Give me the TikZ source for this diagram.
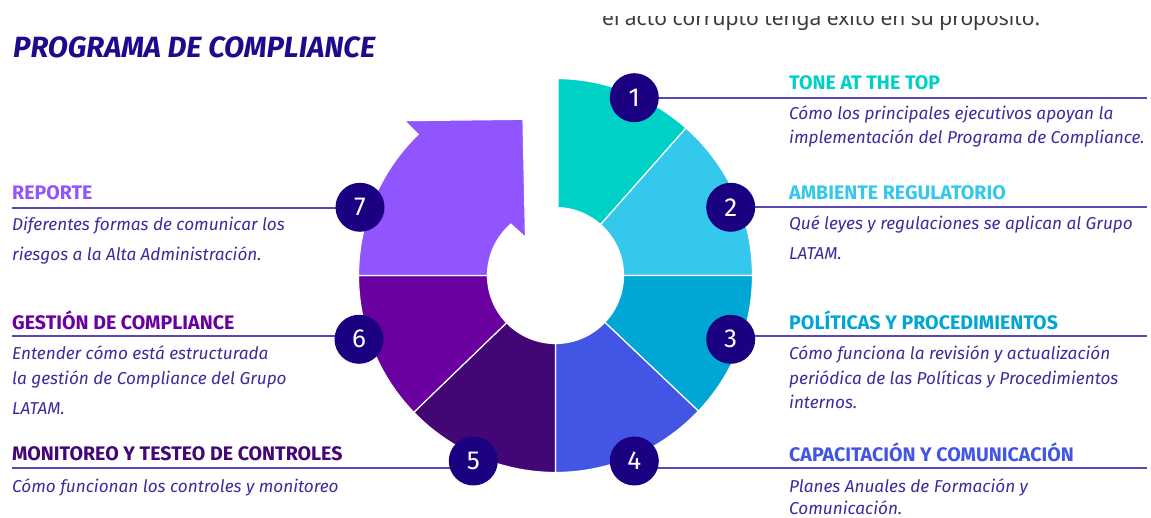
\documentclass[tikz,border=0pt]{standalone}
\usepackage{fontspec}
\setmainfont{Fira Sans}
\newfontfamily\topfont{Noto Sans}
\usetikzlibrary{calc}

\definecolor{segA}{HTML}{00D1C6}
\definecolor{segB}{HTML}{33C8EC}
\definecolor{segC}{HTML}{00A6D4}
\definecolor{segD}{HTML}{4355E5}
\definecolor{segE}{HTML}{430675}
\definecolor{segF}{HTML}{6A00A0}
\definecolor{segG}{HTML}{9155FF}
\definecolor{badge}{HTML}{1B0082}
\definecolor{rule}{HTML}{5E45B5}
\definecolor{bodytext}{HTML}{3B2C9E}
\definecolor{titlecol}{HTML}{1E0A8C}
\definecolor{greytext}{HTML}{3A3A3A}

\tikzset{
  segment/.style={draw=white, line width=1.2pt},
  badgenode/.style={circle, fill=badge, minimum size=49pt, inner sep=0pt,
    text=white, font=\fontsize{26}{26}\selectfont},
  leader/.style={draw=rule, line width=1.8pt},
  heading/.style={anchor=base west, inner sep=0pt, font=\fontsize{19.6}{19.6}\selectfont\bfseries},
  bodyline/.style={anchor=base west, inner sep=0pt, text=bodytext, font=\fontsize{17.2}{17.2}\selectfont\itshape},
}

\begin{document}
\begin{tikzpicture}[x=1pt,y=1pt]
\useasboundingbox (0,0) rectangle (1151,518);
\fill[white] (0,0) rectangle (1151,518);

% clipped line of running text at the top edge
\begin{scope}
  \clip (0,0) rectangle (1151,501.5);
  \node[anchor=base west, inner sep=0pt, text=greytext, font=\topfont\fontsize{21}{21}\selectfont]
    (runtext) at (602,492.5) {el acto corrupto tenga éxito en su propósito.};
\end{scope}

% title
\node[anchor=base west, inner sep=0pt, text=titlecol, font=\fontsize{29.3}{29.3}\selectfont\bfseries\itshape]
  (title) at (13,460.7) {PROGRAMA DE COMPLIANCE};

% ring of seven stages
\coordinate (C) at (555.5,242.5);
\begin{scope}[shift={(C)}]
  \path[segment, fill=segA] (89.27:197) arc[start angle=89.27, end angle=48.5, radius=197]
    -- (48.5:68) arc[start angle=48.5, end angle=87.9, radius=68] -- cycle;
  \path[segment, fill=segB] (48.5:197) arc[start angle=48.5, end angle=0, radius=197]
    -- (0:68) arc[start angle=0, end angle=48.5, radius=68] -- cycle;
  \path[segment, fill=segC] (0:197) arc[start angle=0, end angle=-43.5, radius=197]
    -- (-43.5:68) arc[start angle=-43.5, end angle=0, radius=68] -- cycle;
  \path[segment, fill=segD] (-43.5:197) arc[start angle=-43.5, end angle=-90, radius=197]
    -- (-90:68) arc[start angle=-90, end angle=-43.5, radius=68] -- cycle;
  \path[segment, fill=segE] (-90:197) arc[start angle=-90, end angle=-136, radius=197]
    -- (-136:68) arc[start angle=-136, end angle=-90, radius=68] -- cycle;
  \path[segment, fill=segF] (-136:197) arc[start angle=-136, end angle=-180, radius=197]
    -- (180:68) arc[start angle=180, end angle=224, radius=68] -- cycle;
  % curved arrow closing the cycle
  \path[segment, fill=segG] (180:197) arc[start angle=180, end angle=134.2, radius=197]
    -- (-151.2,154.8) -- (-32.5,156.2) -- (-30,38)
    -- (131:68) arc[start angle=131, end angle=180, radius=68] -- cycle;
\end{scope}

% badge positions and leader ends
\coordinate (p1) at (634.3,420.3);
\coordinate (p2) at (730.7,310.7);
\coordinate (p3) at (730.7,178.7);
\coordinate (p4) at (634.3,57);
\coordinate (p5) at (473.3,57);
\coordinate (p6) at (359,178.7);
\coordinate (p7) at (360,310.7);
\coordinate (e1) at (1147,420.3);
\coordinate (e2) at (1147,311.2);
\coordinate (e3) at (1147,181.6);
\coordinate (e4) at (1147,49.7);
\coordinate (e5) at (12,49.7);
\coordinate (e6) at (12,182);
\coordinate (e7) at (12,310.3);

\foreach \i in {1,...,7} { \draw[leader] (p\i |- e\i) -- (e\i); }

\foreach \i in {1,...,7} { \node[badgenode] (n\i) at (p\i) {\i}; }

% right-hand descriptions
\node[heading, text=segA] (h1) at (789,428) {TONE AT THE TOP};
\node[bodyline] (b1a) at (789,398) {Cómo los principales ejecutivos apoyan la};
\node[bodyline] (b1b) at (789,374) {implementación del Programa de Compliance.};

\node[heading, text=segB] (h2) at (789,318.5) {AMBIENTE REGULATORIO};
\node[bodyline] (b2a) at (789,288) {Qué leyes y regulaciones se aplican al Grupo};
\node[bodyline] (b2b) at (789,258.7) {LATAM.};

\node[heading, text=segC] (h3) at (789,188.7) {POLÍTICAS Y PROCEDIMIENTOS};
\node[bodyline] (b3a) at (789,158) {Cómo funciona la revisión y actualización};
\node[bodyline] (b3b) at (789,133) {periódica de las Políticas y Procedimientos};
\node[bodyline] (b3c) at (789,109.7) {internos.};

\node[heading, text=segD] (h4) at (789,56.3) {CAPACITACIÓN Y COMUNICACIÓN};
\node[bodyline] (b4a) at (789,25.5) {Planes Anuales de Formación y};
\node[bodyline] (b4b) at (789,3.6) {Comunicación.};

% left-hand descriptions
\node[heading, text=segG] (h7) at (12,318.7) {REPORTE};
\node[bodyline] (b7a) at (12,287) {Diferentes formas de comunicar los};
\node[bodyline] (b7b) at (12,257.3) {riesgos a la Alta Administración.};

\node[heading, text=segF] (h6) at (12,188.7) {GESTIÓN DE COMPLIANCE};
\node[bodyline] (b6a) at (12,158.7) {Entender cómo está estructurada};
\node[bodyline] (b6b) at (12,133.7) {la gestión de Compliance del Grupo};
\node[bodyline] (b6c) at (12,103) {LATAM.};

\node[heading, text=segE] (h5) at (12,57.3) {MONITOREO Y TESTEO DE CONTROLES};
\node[bodyline] (b5a) at (12,25.5) {Cómo funcionan los controles y monitoreo};
\end{tikzpicture}
\end{document}
